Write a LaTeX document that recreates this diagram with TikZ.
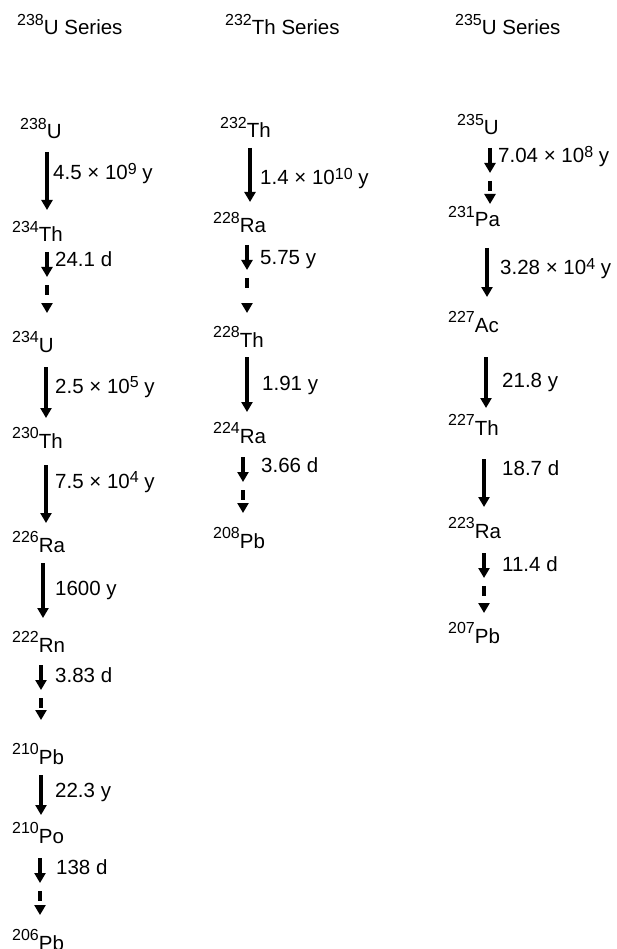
\documentclass[tikz,border=0pt]{standalone}
\usepackage{fontspec}
\setmainfont{Liberation Sans}
\usetikzlibrary{arrows.meta,calc}
\newcommand{\iso}[2]{\raisebox{0.48em}{\fontsize{16}{16}\selectfont #1}#2}
\newcommand{\pw}[1]{\raisebox{0.26em}{\fontsize{16}{16}\selectfont #1}}
\newcommand{\dasharr}[2]{%
  \draw[arr] (#1) -- ($(#1)+(0,25)$);
  \draw[bar] ($(#1)+(0,33)$) -- ($(#1)+(0,43)$);
  \draw[arr] ($(#2)+(0,-10)$) -- (#2);}
\begin{document}
\begin{tikzpicture}[x=1pt,y=-1pt,
  every node/.style={inner sep=0pt, anchor=base west, font=\fontsize{20.5}{23}\selectfont},
  arr/.style={line width=4.5pt, -{Triangle[width=11pt,length=10pt]}},
  bar/.style={line width=4.5pt}]
\useasboundingbox (0,0) rectangle (617,949);
% headers
\node (h1) at (17,35) {\iso{238}{U} Series};
\node (h2) at (225,35) {\iso{232}{Th} Series};
\node (h3) at (455,35) {\iso{235}{U} Series};
% column 1
\node (u238) at (20,139) {\iso{238}{U}};
\node (th234) at (12,242) {\iso{234}{Th}};
\node (u234) at (12,352) {\iso{234}{U}};
\node (th230) at (12,448) {\iso{230}{Th}};
\node (ra226) at (12,552) {\iso{226}{Ra}};
\node (rn222) at (12,652) {\iso{222}{Rn}};
\node (pb210) at (12,764) {\iso{210}{Pb}};
\node (po210) at (12,843) {\iso{210}{Po}};
\node (pb206) at (12,950) {\iso{206}{Pb}};
\coordinate (a1s) at (47,152); \coordinate (a1e) at (47,210);
\coordinate (a2s) at (47,252); \coordinate (a2e) at (47,313);
\coordinate (a3s) at (46,367); \coordinate (a3e) at (46,418);
\coordinate (a4s) at (46,465); \coordinate (a4e) at (46,523);
\coordinate (a5s) at (43,563); \coordinate (a5e) at (43,618);
\coordinate (a6s) at (41,665); \coordinate (a6e) at (41,720);
\coordinate (a7s) at (41,775); \coordinate (a7e) at (41,815);
\coordinate (a8s) at (40,858); \coordinate (a8e) at (40,915);
\draw[arr] (a1s) -- (a1e);
\dasharr{a2s}{a2e}
\draw[arr] (a3s) -- (a3e);
\draw[arr] (a4s) -- (a4e);
\draw[arr] (a5s) -- (a5e);
\dasharr{a6s}{a6e}
\draw[arr] (a7s) -- (a7e);
\dasharr{a8s}{a8e}
\node (l1) at (53,180) {4.5 × 10\pw{9} y};
\node (l2) at (55,267) {24.1 d};
\node (l3) at (55,393) {2.5 × 10\pw{5} y};
\node (l4) at (55,488) {7.5 × 10\pw{4} y};
\node (l5) at (55,595) {1600 y};
\node (l6) at (55,682) {3.83 d};
\node (l7) at (55,797) {22.3 y};
\node (l8) at (56,874) {138 d};
% column 2
\node (th232) at (220,138) {\iso{232}{Th}};
\node (ra228) at (213,233) {\iso{228}{Ra}};
\node (th228) at (213,347) {\iso{228}{Th}};
\node (ra224) at (213,443) {\iso{224}{Ra}};
\node (pb208) at (213,548) {\iso{208}{Pb}};
\coordinate (b1s) at (250,148); \coordinate (b1e) at (250,202);
\coordinate (b2s) at (247,245); \coordinate (b2e) at (247,313);
\coordinate (b3s) at (247,357); \coordinate (b3e) at (247,412);
\coordinate (b4s) at (243,457); \coordinate (b4e) at (243,513);
\draw[arr] (b1s) -- (b1e);
\dasharr{b2s}{b2e}
\draw[arr] (b3s) -- (b3e);
\dasharr{b4s}{b4e}
\node (m1) at (260,185) {1.4 × 10\pw{10} y};
\node (m2) at (260,265) {5.75 y};
\node (m3) at (262,390) {1.91 y};
\node (m4) at (261,472) {3.66 d};
% column 3
\node (u235) at (457,135) {\iso{235}{U}};
\node (pa231) at (448,227) {\iso{231}{Pa}};
\node (ac227) at (448,332) {\iso{227}{Ac}};
\node (th227) at (448,435) {\iso{227}{Th}};
\node (ra223) at (448,538) {\iso{223}{Ra}};
\node (pb207) at (448,643) {\iso{207}{Pb}};
\coordinate (c1s) at (490,148); \coordinate (c1e) at (490,204);
\coordinate (c2s) at (487,248); \coordinate (c2e) at (487,297);
\coordinate (c3s) at (486,357); \coordinate (c3e) at (486,408);
\coordinate (c4s) at (484,459); \coordinate (c4e) at (484,507);
\coordinate (c5s) at (484,553); \coordinate (c5e) at (484,613);
\dasharr{c1s}{c1e}
\draw[arr] (c2s) -- (c2e);
\draw[arr] (c3s) -- (c3e);
\draw[arr] (c4s) -- (c4e);
\dasharr{c5s}{c5e}
\node (k1) at (498,163) {7.04 × 10\pw{8} y};
\node (k2) at (500,275) {3.28 × 10\pw{4} y};
\node (k3) at (502,387) {21.8 y};
\node (k4) at (502,475) {18.7 d};
\node (k5) at (502,571) {11.4 d};
\end{tikzpicture}
\end{document}
